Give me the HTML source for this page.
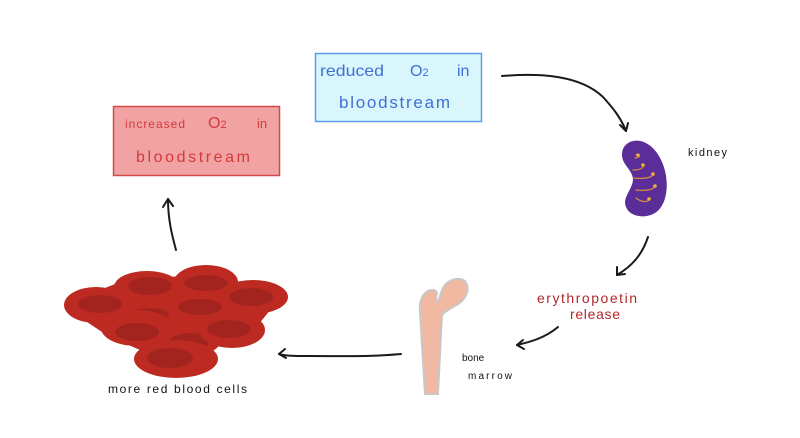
<!DOCTYPE html>
<html>
<head>
<meta charset="utf-8">
<style>
html,body{margin:0;padding:0;background:#fff;}
svg{display:block;}
text{font-family:"Liberation Sans", sans-serif;}
</style>
</head>
<body>
<svg width="800" height="438" viewBox="0 0 800 438" xmlns="http://www.w3.org/2000/svg">
  <rect x="0" y="0" width="800" height="438" fill="#ffffff"/>

  <!-- Blue box -->
  <rect x="315.5" y="53.5" width="166" height="68" fill="#daf6fd" stroke="#5a9cf0" stroke-width="1.5"/>
  <text x="320" y="76" font-size="16" fill="#3f6fd6" textLength="64" lengthAdjust="spacingAndGlyphs">reduced</text>
  <text x="410" y="76" font-size="16" fill="#3f6fd6">O<tspan font-size="11">2</tspan></text>
  <text x="457" y="76" font-size="16" fill="#3f6fd6">in</text>
  <text x="339" y="108" font-size="17" fill="#3f6fd6" textLength="111" lengthAdjust="spacing">bloodstream</text>

  <!-- Red box -->
  <rect x="113.5" y="106.5" width="166" height="69" fill="#f1a3a3" stroke="#d04a4a" stroke-width="1.5"/>
  <text x="125" y="128" font-size="12" fill="#d43a3a" textLength="60" lengthAdjust="spacing">increased</text>
  <text x="208" y="128" font-size="16" fill="#d43a3a">O<tspan font-size="11">2</tspan></text>
  <text x="257" y="128" font-size="13" fill="#d43a3a">in</text>
  <text x="136" y="162" font-size="16" fill="#d43a3a" textLength="114" lengthAdjust="spacing">bloodstream</text>

  <!-- Arrows -->
  <g fill="none" stroke="#1a1a1a" stroke-width="2" stroke-linecap="round" stroke-linejoin="round">
    <path d="M502,76 C540,73 580,75 603,97 C613,108 621,118 626,131"/>
    <path d="M620,125 L626,131 L628,123"/>
    <path d="M648,237 C642,255 632,266 617,275"/>
    <path d="M617,267 L617,275 L625,274"/>
    <path d="M558,327 C545,338 530,342 517,345"/>
    <path d="M523,340 L517,345 L524,349"/>
    <path d="M401,354 C370,357 340,356 310,356 C295,356 285,356 279,354"/>
    <path d="M285,349 L279,354 L286,358"/>
    <path d="M176,250 C172,235 168,220 168,199"/>
    <path d="M163,207 L168,199 L173,206"/>
  </g>

  <!-- Kidney -->
  <path d="M628,143 C640,136 655,145 662,162 C670,180 668,205 655,213 C645,219 630,217 626,207 C622,198 632,190 633,180 C633,170 622,165 622,155 C622,149 624,146 628,143 Z" fill="#5b2d99"/>
  <g fill="none" stroke="#d8903a" stroke-width="1.2" stroke-linecap="round">
    <path d="M635,158 C642,157 640,153 636,155"/>
    <path d="M633,170 C640,170 644,168 643,165"/>
    <path d="M634,178 C644,179 652,178 653,174"/>
    <path d="M636,190 C645,191 654,190 655,186"/>
    <path d="M636,198 C641,202 648,203 649,199"/>
  </g>
  <g fill="#f0b030">
    <circle cx="638" cy="155" r="1.6"/>
    <circle cx="643" cy="165" r="1.8"/>
    <circle cx="653" cy="174" r="1.8"/>
    <circle cx="655" cy="186" r="1.8"/>
    <circle cx="649" cy="199" r="1.8"/>
  </g>
  <text x="688" y="156" font-size="11" fill="#111" textLength="39" lengthAdjust="spacing">kidney</text>

  <!-- EPO label -->
  <text x="537" y="303" font-size="14" fill="#b02a2a" textLength="100" lengthAdjust="spacing">erythropoetin</text>
  <text x="570" y="319" font-size="14" fill="#b02a2a" textLength="50" lengthAdjust="spacing">release</text>

  <!-- Bone -->
  <path d="M425,394 L420,313 C419,302 422,294 428,291 C432,289 436,290 437,293 C436,296 435,300 438,302 C440,296 442,288 446,284 C451,279 460,277 465,281 C470,287 467,296 462,301 C457,306 447,309 442,315 L438,394 Z" fill="#f2b9a2" stroke="#c8c8c8" stroke-width="2"/>
  <text x="462" y="361" font-size="10" fill="#111">bone</text>
  <text x="468" y="379" font-size="10" fill="#111" textLength="44" lengthAdjust="spacing">marrow</text>

  <!-- Red blood cells -->
  <g>
    <path d="M75,300 L120,282 L180,276 L235,284 L280,298 L258,325 L210,348 L178,372 L140,350 L108,336 L72,312 Z" fill="#bd2a22"/>
    <!-- back cells -->
    <ellipse cx="149" cy="316" rx="31" ry="16" fill="#bd2a22"/>
    <ellipse cx="149" cy="315" rx="20" ry="7" fill="#a3241f"/>
    <ellipse cx="200" cy="307" rx="33" ry="17" fill="#bd2a22"/>
    <ellipse cx="200" cy="307" rx="22" ry="8" fill="#a3241f"/>
    <ellipse cx="190" cy="340" rx="31" ry="16" fill="#bd2a22"/>
    <ellipse cx="190" cy="341" rx="20" ry="8" fill="#a3241f"/>
    <!-- top row -->
    <ellipse cx="147" cy="287" rx="33" ry="16" fill="#bd2a22"/>
    <ellipse cx="150" cy="286" rx="22" ry="9" fill="#a3241f"/>
    <ellipse cx="206" cy="282" rx="32" ry="17" fill="#bd2a22"/>
    <ellipse cx="206" cy="283" rx="22" ry="8" fill="#a3241f"/>
    <ellipse cx="96" cy="305" rx="32" ry="18" fill="#bd2a22"/>
    <ellipse cx="100" cy="304" rx="22" ry="9" fill="#a3241f"/>
    <ellipse cx="253" cy="297" rx="35" ry="17" fill="#bd2a22"/>
    <ellipse cx="251" cy="297" rx="22" ry="9" fill="#a3241f"/>
    <!-- middle row -->
    <ellipse cx="137" cy="328" rx="36" ry="18" fill="#bd2a22"/>
    <ellipse cx="137" cy="332" rx="22" ry="9" fill="#a3241f"/>
    <ellipse cx="232" cy="330" rx="33" ry="18" fill="#bd2a22"/>
    <ellipse cx="229" cy="329" rx="22" ry="9" fill="#a3241f"/>
    <!-- bottom -->
    <ellipse cx="176" cy="359" rx="42" ry="19" fill="#bd2a22"/>
    <ellipse cx="170" cy="358" rx="23" ry="10" fill="#a3241f"/>
  </g>
  <text x="108" y="393" font-size="12" fill="#111" textLength="139" lengthAdjust="spacing">more red blood cells</text>
</svg>
</body>
</html>
